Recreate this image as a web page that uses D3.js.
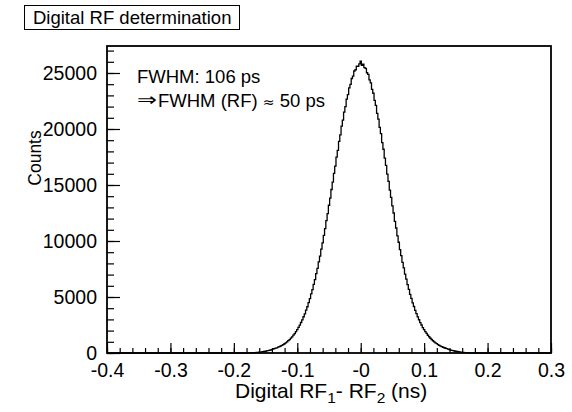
<!DOCTYPE html>
<meta charset="UTF-8">
<style>
    body { margin: 0; background: #fff; }
    text { font-family: "Liberation Sans", Arial, Helvetica, sans-serif; fill: #000; }
</style>
<body>
<div id="chart"></div>
<script src="https://d3js.org/d3.v7.min.js"></script>
<script>

// histogram: 179 bins of 0.002 ns starting at -0.179 ns
var binLow = -0.179;
var binWidth = 0.002;
var counts = [
    6, 8, 12, 16, 21, 27, 35, 44, 54, 66,
    80, 96, 115, 135, 158, 184, 210, 238, 268, 302,
    352, 384, 427, 465, 516, 562, 625, 681, 755, 824,
    911, 995, 1099, 1200, 1325, 1446, 1593, 1735, 1912, 2080,
    2285, 2485, 2725, 2955, 3235, 3500, 3820, 4130, 4500, 4850,
    5270, 5660, 6120, 6560, 7080, 7560, 8140, 8650, 9280, 9840,
    10510, 11100, 11820, 12440, 13190, 13830, 14600, 15250, 16040, 16690,
    17480, 18100, 18900, 19480, 20250, 20790, 21510, 21990, 22660, 23070,
    23680, 23990, 24510, 24720, 25180, 25290, 25610, 25590, 25820,
    26060,
    25690, 25780, 25480, 25410, 25020, 24880, 24390, 24120, 23540, 23190,
    22550, 22110, 21400, 20890, 20140, 19580, 18790, 18190, 17400, 16760,
    15970, 15320, 14540, 13890, 13130, 12500, 11760, 11160, 10460, 9890,
    9230, 8700, 8090, 7600, 7050, 6590, 6100, 5680, 5240, 4870,
    4480, 4150, 3810, 3520, 3220, 2970, 2710, 2500, 2270, 2090,
    1900, 1745, 1585, 1452, 1318, 1206, 1093, 1000, 905, 829,
    750, 686, 620, 566, 512, 468, 423, 387, 349, 300,
    265, 235, 205, 180, 155, 132, 112, 94, 78, 64,
    52, 42, 33, 26, 20, 15, 11, 8, 5
];

// axis ticks and labels
var xMajor = [-0.4, -0.3, -0.2, -0.1, 0, 0.1, 0.2, 0.3];
var xLabels = ["-0.4", "-0.3", "-0.2", "-0.1", "-0", "0.1", "0.2", "0.3"];
var yMajor = [0, 5000, 10000, 15000, 20000, 25000];
var yLabels = ["0", "5000", "10000", "15000", "20000", "25000"];

var margin = {top: 46, right: 21, bottom: 59, left: 107},
    width = 572 - margin.left - margin.right,
    height = 412 - margin.top - margin.bottom;

var x = d3.scaleLinear().domain([-0.4, 0.3]).range([0, width]);
var y = d3.scaleLinear().domain([0, 27410]).range([height, 0]);

var svg = d3.select("#chart").append("svg")
        .attr("width", 572)
        .attr("height", 412);

// title box
svg.append("rect")
    .attr("x", 24.5).attr("y", 5.5)
    .attr("width", 215).attr("height", 24)
    .attr("fill", "none").attr("stroke", "#000").attr("stroke-width", 1);
svg.append("text")
    .attr("x", 33).attr("y", 24)
    .style("font-size", "18.5px")
    .text("Digital RF determination");

var g = svg.append("g")
    .attr("transform", "translate(" + margin.left + "," + margin.top + ")");

// histogram outline as steps
var pts = [[x.domain()[0], 0], [binLow, 0]];
counts.forEach(function(c, i) {
    pts.push([binLow + i * binWidth, c]);
    pts.push([binLow + (i + 1) * binWidth, c]);
});
pts.push([binLow + counts.length * binWidth, 0]);
pts.push([x.domain()[1], 0]);

var line = d3.line()
    .x(function(d) { return x(d[0]); })
    .y(function(d) { return y(d[1]); });

g.append("path")
    .datum(pts)
    .attr("d", line)
    .attr("fill", "none")
    .attr("stroke", "#000")
    .attr("stroke-width", 1.3);

// minor ticks
var xMinor = d3.range(-0.4, 0.3001, 0.02);
var yMinor = d3.range(0, 27001, 1000);

g.append("g")
    .attr("transform", "translate(0," + height + ")")
    .call(d3.axisBottom(x).tickValues(xMinor).tickSize(-5).tickFormat(""))
    .call(function(a) { a.select(".domain").remove(); });
g.append("g")
    .call(d3.axisLeft(y).tickValues(yMinor).tickSize(-7).tickFormat(""))
    .call(function(a) { a.select(".domain").remove(); });

// major ticks with labels
var xAxis = g.append("g")
    .attr("transform", "translate(0," + height + ")")
    .call(d3.axisBottom(x).tickValues(xMajor).tickSize(-10).tickPadding(10)
        .tickFormat(function(d, i) { return xLabels[i]; }));
var yAxis = g.append("g")
    .call(d3.axisLeft(y).tickValues(yMajor).tickSize(-13).tickPadding(10)
        .tickFormat(function(d, i) { return yLabels[i]; }));

[xAxis, yAxis].forEach(function(a) {
    a.select(".domain").remove();
    a.selectAll("text").style("font-size", "19.5px").attr("fill", "#000");
});
g.selectAll(".tick line").attr("stroke", "#000").attr("stroke-width", 1.2);

// frame
g.append("rect")
    .attr("width", width).attr("height", height)
    .attr("fill", "none").attr("stroke", "#000").attr("stroke-width", 1.8);

// axis titles
var xt = svg.append("text")
    .attr("x", 235).attr("y", 398)
    .style("font-size", "21px");
xt.append("tspan").text("Digital RF");
xt.append("tspan").attr("dy", 5).style("font-size", "15.5px").text("1");
xt.append("tspan").attr("dy", -5).text("- RF");
xt.append("tspan").attr("dy", 5).style("font-size", "15.5px").text("2");
xt.append("tspan").attr("dy", -5).text(" (ns)");

svg.append("text")
    .attr("transform", "translate(41,158) rotate(-90)")
    .attr("text-anchor", "middle")
    .style("font-size", "17.5px")
    .text("Counts");

// annotation
svg.append("text")
    .attr("x", 137).attr("y", 83)
    .style("font-size", "18.5px")
    .text("FWHM: 106 ps");
svg.append("text")
    .attr("x", 137).attr("y", 106)
    .attr("textLength", 20)
    .attr("lengthAdjust", "spacingAndGlyphs")
    .style("font-family", "DejaVu Sans")
    .style("font-size", "18px")
    .text("\u21D2");
var t2 = svg.append("text")
    .attr("x", 158).attr("y", 107)
    .style("font-size", "18.5px");
t2.append("tspan").text("FWHM (RF) ");
t2.append("tspan").style("font-family", "DejaVu Sans").style("font-size", "14px").text("\u2248");
t2.append("tspan").text(" 50 ps");

</script>
</body>
